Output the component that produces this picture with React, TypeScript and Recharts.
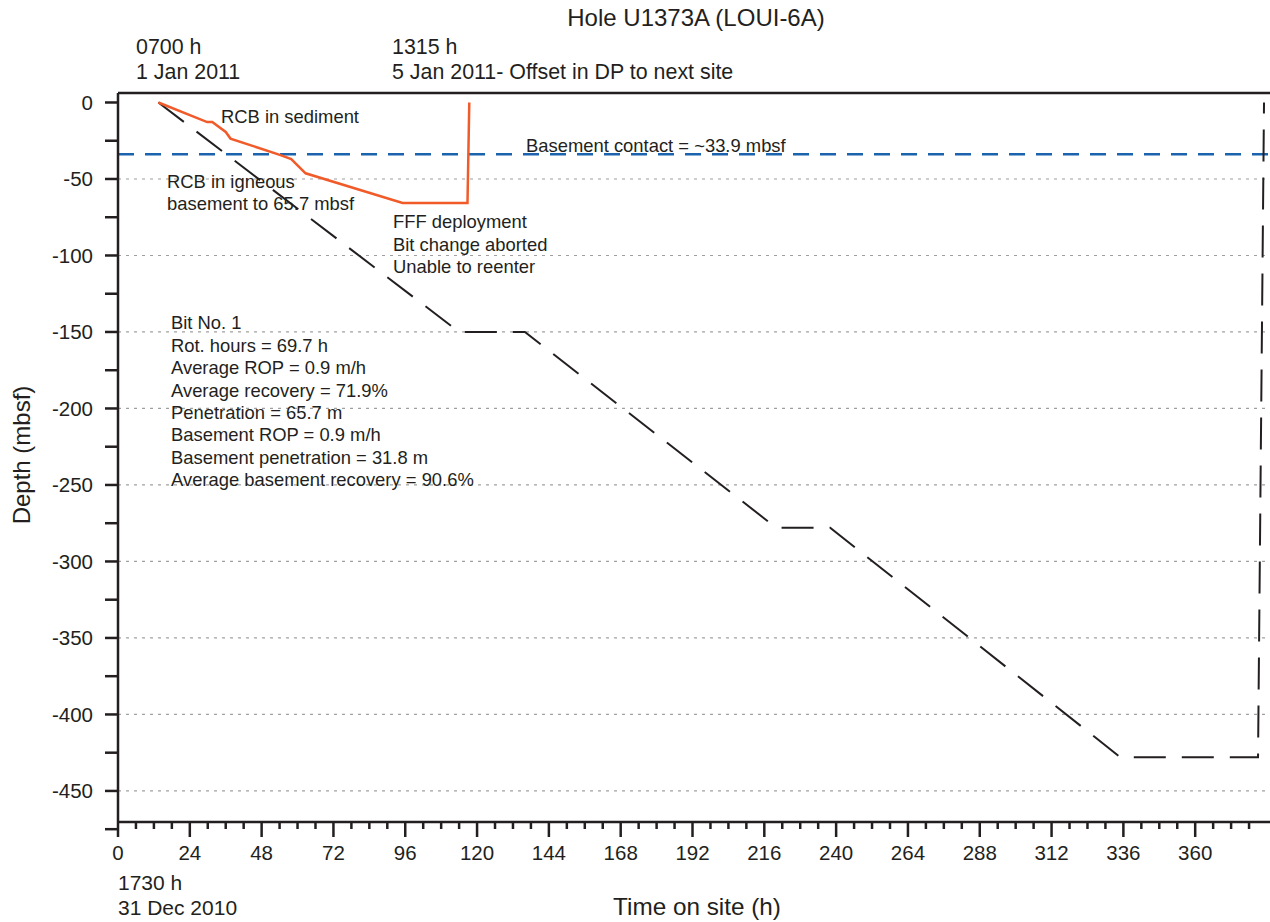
import { LineChart, Line, XAxis, YAxis, ReferenceLine } from "recharts";

// planned depth vs time (black dashed)
const plannedHours = [13.5, 114, 136, 220, 238, 335, 381, 383];
const plannedDepth = [0, -150, -150, -278, -278, -428, -428, 0];

// actual depth vs time (orange)
const actualHours = [13.5, 29.8, 31.5, 36, 37.6, 54.3, 57.9, 62.7, 95.1, 116.8, 117.4];
const actualDepth = [0, -12.8, -12.8, -19.3, -23.6, -34.4, -37, -46.3, -65.7, -65.7, 0];

const basementContact = -33.9;

const majorHours = [0, 24, 48, 72, 96, 120, 144, 168, 192, 216, 240, 264, 288, 312, 336, 360];
const minorHours = majorHours.flatMap((m) => [m + 6, m + 12, m + 18]);
const xTicks = [...majorHours, ...minorHours].sort((a, b) => a - b);

const majorDepths = [0, -50, -100, -150, -200, -250, -300, -350, -400, -450];
const gridDepths = [-50, -100, -150, -200, -250, -300, -350, -400, -450];
const yTicks = [...majorDepths, ...majorDepths.map((d) => d - 25)];

const bitNotes = [
  "Bit No. 1",
  "Rot. hours = 69.7 h",
  "Average ROP = 0.9 m/h",
  "Average recovery = 71.9%",
  "Penetration = 65.7 m",
  "Basement ROP = 0.9 m/h",
  "Basement penetration = 31.8 m",
  "Average basement recovery = 90.6%",
];
const fffNotes = ["FFF deployment", "Bit change aborted", "Unable to reenter"];

const plannedData = plannedHours.map((h, i) => ({ h, d: plannedDepth[i] }));
const actualData = actualHours.map((h, i) => ({ h, d: actualDepth[i] }));

const INK = "#231f20";
const FONT = '"Liberation Sans", Arial, Helvetica, sans-serif';

function XTick(props: any) {
  const { x, y, payload } = props;
  const v = payload.value;
  const major = majorHours.includes(v);
  return (
    <g>
      <line x1={x} x2={x} y1={y} y2={y + (major ? 15 : 7)} stroke={INK} strokeWidth={2.5} />
      {major && (
        <text x={x} y={y + 31} dy="0.35em" textAnchor="middle" fontSize={20.5} fill={INK}>
          {v}
        </text>
      )}
    </g>
  );
}

function YTick(props: any) {
  const { x, y, payload } = props;
  const v = payload.value;
  const major = majorDepths.includes(v);
  return (
    <g>
      <line x1={x - 13} x2={x} y1={y} y2={y} stroke={INK} strokeWidth={2.5} />
      {major && (
        <text x={x - 25} y={y} dy="0.35em" textAnchor="end" fontSize={20.5} fill={INK}>
          {v}
        </text>
      )}
    </g>
  );
}

export default function App() {
  return (
    <div style={{ position: "absolute", left: 0, top: 0, width: 1270, height: 922, fontFamily: FONT, background: "#fff" }}>
      <LineChart width={1270} height={922} margin={{ top: 83, right: 0, bottom: 70, left: 58 }}>
        <XAxis
          type="number"
          dataKey="h"
          domain={[0, 385]}
          ticks={xTicks}
          interval={0}
          tick={<XTick />}
          tickLine={false}
          tickSize={0}
          tickMargin={0}
          axisLine={{ stroke: INK, strokeWidth: 2.5 }}
          height={30}
          allowDataOverflow
        />
        <XAxis
          xAxisId="top"
          orientation="top"
          type="number"
          domain={[0, 385]}
          tick={false}
          tickLine={false}
          axisLine={{ stroke: INK, strokeWidth: 2.5 }}
          height={10}
        />
        <YAxis
          type="number"
          domain={[-470.3, 6.2]}
          ticks={yTicks}
          interval={0}
          tick={<YTick />}
          tickLine={false}
          tickSize={0}
          tickMargin={0}
          axisLine={{ stroke: INK, strokeWidth: 2.5 }}
          width={60}
          allowDataOverflow
        />
        {gridDepths.map((d) => (
          <ReferenceLine key={d} y={d} stroke="#a0a0a0" strokeWidth={1.2} strokeDasharray="3 5" />
        ))}
        <ReferenceLine y={basementContact} stroke="#1b63ad" strokeWidth={2.5} strokeDasharray="16 11" />
        <Line
          data={plannedData}
          dataKey="d"
          type="linear"
          stroke={INK}
          strokeWidth={2}
          strokeDasharray="32 16"
          dot={false}
          activeDot={false}
          isAnimationActive={false}
        />
        <Line
          data={actualData}
          dataKey="d"
          type="linear"
          stroke="#f15a29"
          strokeWidth={2.5}
          dot={false}
          activeDot={false}
          isAnimationActive={false}
        />
      </LineChart>
      <svg
        width={1270}
        height={922}
        style={{ position: "absolute", left: 0, top: 0, pointerEvents: "none" }}
        fontFamily={FONT}
        fill={INK}
      >
        <text x={696} y={18} dy="0.35em" textAnchor="middle" fontSize={24}>
          Hole U1373A (LOUI-6A)
        </text>
        <text x={136} y={47} dy="0.35em" fontSize={21.4}>0700 h</text>
        <text x={136} y={72} dy="0.35em" fontSize={21.4}>1 Jan 2011</text>
        <text x={392} y={47} dy="0.35em" fontSize={21.4}>1315 h</text>
        <text x={392} y={72} dy="0.35em" fontSize={21.4}>5 Jan 2011- Offset in DP to next site</text>
        <text x={118} y={883} dy="0.35em" fontSize={21}>1730 h</text>
        <text x={118} y={908} dy="0.35em" fontSize={21}>31 Dec 2010</text>
        <text x={697} y={906} dy="0.35em" textAnchor="middle" fontSize={24.3}>
          Time on site (h)
        </text>
        <text
          x={22}
          y={455}
          dy="0.35em"
          textAnchor="middle"
          fontSize={24}
          transform="rotate(-90 22 455)"
        >
          Depth (mbsf)
        </text>
        <text x={221} y={117} dy="0.35em" fontSize={18.4}>RCB in sediment</text>
        <text x={526} y={146} dy="0.35em" fontSize={18.4}>Basement contact = ~33.9 mbsf</text>
        <text x={167} y={182} dy="0.35em" fontSize={18.4}>RCB in igneous</text>
        <text x={167} y={204} dy="0.35em" fontSize={18.4}>basement to 65.7 mbsf</text>
        {fffNotes.map((t, i) => (
          <text key={t} x={393} y={222 + i * 22.5} dy="0.35em" fontSize={18.4}>
            {t}
          </text>
        ))}
        {bitNotes.map((t, i) => (
          <text key={t} x={171} y={323 + i * 22.4} dy="0.35em" fontSize={18.4}>
            {t}
          </text>
        ))}
      </svg>
    </div>
  );
}
